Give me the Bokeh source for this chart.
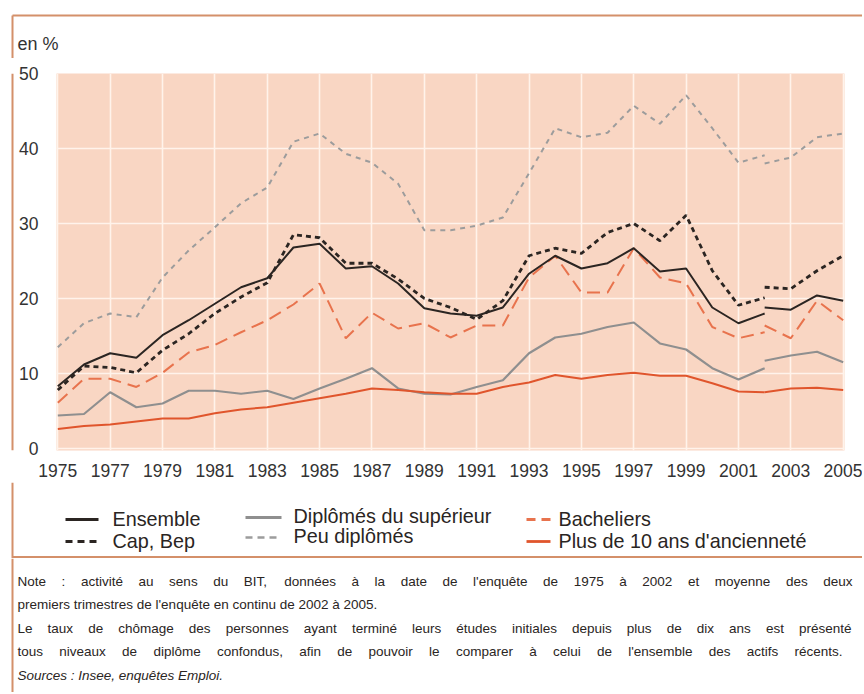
from bokeh.plotting import figure
from bokeh.models import Range1d, FixedTicker
from bokeh.layouts import column, row
from bokeh.embed import file_html
from bokeh.resources import INLINE
from bokeh.core.properties import value

# ---------------- data ----------------
years_old = list(range(1975, 2003))
years_new = [2002, 2003, 2004, 2005]

ensemble_old = [8.3, 11.2, 12.7, 12.1, 15.1, 17.1, 19.3, 21.5, 22.7, 26.8, 27.3, 24.0, 24.3, 22.0,
                18.7, 18.0, 17.7, 18.8, 23.3, 25.7, 24.0, 24.7, 26.7, 23.6, 24.0, 18.8, 16.7, 18.0]
ensemble_new = [18.8, 18.5, 20.4, 19.7]

cap_old = [7.8, 11.0, 10.8, 10.1, 13.1, 15.3, 18.0, 20.2, 22.1, 28.5, 28.1, 24.7, 24.7, 22.6,
           20.0, 18.8, 17.2, 19.7, 25.7, 26.7, 26.0, 28.8, 30.0, 27.7, 31.1, 23.7, 19.1, 20.1]
cap_new = [21.5, 21.3, 23.7, 25.7]

sup_old = [4.4, 4.6, 7.5, 5.5, 6.0, 7.7, 7.7, 7.3, 7.7, 6.6, 8.0, 9.3, 10.7, 8.0,
           7.3, 7.2, 8.2, 9.1, 12.7, 14.8, 15.3, 16.2, 16.8, 14.0, 13.2, 10.7, 9.2, 10.7]
sup_new = [11.7, 12.4, 12.9, 11.5]

peu_old = [13.5, 16.7, 18.0, 17.5, 22.8, 26.4, 29.5, 32.7, 34.8, 40.9, 42.0, 39.3, 38.1, 35.3,
           29.1, 29.1, 29.7, 30.8, 36.7, 42.7, 41.5, 42.1, 45.7, 43.3, 47.1, 42.7, 38.1, 39.1]
peu_new = [38.0, 38.8, 41.5, 42.0]

bac_old = [6.1, 9.3, 9.3, 8.2, 10.1, 12.8, 13.8, 15.5, 17.1, 19.2, 22.0, 14.7, 18.1, 16.0,
           16.7, 14.8, 16.4, 16.4, 22.8, 25.7, 20.8, 20.8, 26.7, 22.8, 22.0, 16.2, 14.7, 15.5]
bac_new = [16.4, 14.7, 19.7, 17.1]

plus_old = [2.6, 3.0, 3.2, 3.6, 4.0, 4.0, 4.7, 5.2, 5.5, 6.1, 6.7, 7.3, 8.0, 7.8,
            7.5, 7.3, 7.3, 8.2, 8.8, 9.8, 9.3, 9.8, 10.1, 9.7, 9.7, 8.7, 7.6, 7.5]
plus_new = [7.5, 8.0, 8.1, 7.8]

x_ticks = list(range(1975, 2006, 2))
y_ticks = [0, 10, 20, 30, 40, 50]
unit_label = "en %"
legend_labels = ["Ensemble", "Cap, Bep", "Diplômés du supérieur", "Peu diplômés",
                 "Bacheliers", "Plus de 10 ans d'ancienneté"]
note_lines = [
    "Note : activité au sens du BIT, données à la date de l'enquête de 1975 à 2002 et moyenne des deux",
    "premiers trimestres de l'enquête en continu de 2002 à 2005.",
    "Le taux de chômage des personnes ayant terminé leurs études initiales depuis plus de dix ans est présenté",
    "tous niveaux de diplôme confondus, afin de pouvoir le comparer à celui de l'ensemble des actifs récents.",
]
source_line = "Sources : Insee, enquêtes Emploi."

# ---------------- style ----------------
FONT = "Liberation Sans"
BG = "#F9D6C3"
GRID = "#FFF3EB"
FRAME = "#D4906A"
TXT = "#2A2523"
C_BLACK = "#2B2522"
C_GRAY = "#8F8F8F"
C_GRAY_D = "#9C9C9C"
C_ORANGE = "#E8734D"
C_RED = "#E0552C"

FULL_W = 862


def canvas_fig(w, h):
    f = figure(width=w, height=h, output_backend="svg", toolbar_location=None,
               x_range=Range1d(0, w), y_range=Range1d(h, 0), min_border=0,
               x_axis_location=None, y_axis_location=None)
    f.xgrid.visible = False
    f.ygrid.visible = False
    f.outline_line_color = None
    f.background_fill_color = "white"
    f.border_fill_color = "white"
    return f


# ---------------- header (top border + unit) ----------------
fig_T = canvas_fig(FULL_W, 58)
fig_T.segment(x0=[12, 12], y0=[15, 15], x1=[FULL_W, 12], y1=[15, 58], line_color=FRAME, line_width=2)
fig_T.text(x=[17], y=[43], text=[unit_label], text_font=value(FONT), text_font_size=value("18px"),
           text_color="#333333", text_baseline=value("middle"), text_align=value("left"))

# ---------------- chart ----------------
fig_AL = canvas_fig(16, 424)
fig_AL.segment(x0=[12], y0=[0], x1=[12], y1=[424], line_color=FRAME, line_width=2)

p = figure(width=846, height=424, output_backend="svg", toolbar_location=None,
           x_range=Range1d(1974.95, 2005.05), y_range=Range1d(-0.27, 50),
           min_border_left=32, min_border_right=18, min_border_top=15, min_border_bottom=32)
p.background_fill_color = BG
p.border_fill_color = "white"
p.outline_line_color = None
for ax in (p.xaxis, p.yaxis):
    ax.axis_line_color = None
    ax.major_tick_line_color = None
    ax.minor_tick_line_color = None
    ax.major_label_text_font = FONT
    ax.major_label_text_font_size = "17.5px"
    ax.major_label_text_color = "#333333"
p.xaxis.ticker = FixedTicker(ticks=x_ticks)
p.yaxis.ticker = FixedTicker(ticks=y_ticks)
p.xaxis.major_label_standoff = 7
p.yaxis.major_label_standoff = 12
p.xgrid.ticker = FixedTicker(ticks=x_ticks)
p.ygrid.ticker = FixedTicker(ticks=y_ticks)
for g in (p.xgrid, p.ygrid):
    g.grid_line_color = GRID
    g.grid_line_width = 1.6

series = [
    (peu_old, peu_new, C_GRAY_D, 2.0, "5 5"),
    (sup_old, sup_new, C_GRAY, 2.2, "solid"),
    (plus_old, plus_new, C_RED, 2.0, "solid"),
    (bac_old, bac_new, C_ORANGE, 2.0, "13 7"),
    (cap_old, cap_new, C_BLACK, 2.8, "5 4"),
    (ensemble_old, ensemble_new, C_BLACK, 2.0, "solid"),
]
for old, new, col, lw, dash in series:
    p.line(years_old, old, line_color=col, line_width=lw, line_dash=dash)
    p.line(years_new, new, line_color=col, line_width=lw, line_dash=dash)

# ---------------- legend ----------------
fig_L = canvas_fig(FULL_W, 76)
fig_L.segment(x0=[12, 12], y0=[0, 74.5], x1=[12, FULL_W], y1=[76, 74.5], line_color=FRAME, line_width=2)
leg_style = [(C_BLACK, 2.8, "solid"), (C_BLACK, 3.0, "7 5"), (C_GRAY, 2.8, "solid"),
             (C_GRAY_D, 2.6, "7 5"), (C_ORANGE, 2.8, "9 6"), (C_RED, 2.8, "solid")]
leg_line_x = [(65, 98), (65, 98), (245, 281), (245, 281), (526, 550), (526, 550)]
leg_y = [37, 59, 35, 55, 37, 59]
for (xa, xb), yy, (c, lw, d) in zip(leg_line_x, leg_y, leg_style):
    fig_L.line([xa, xb], [yy, yy], line_color=c, line_width=lw, line_dash=d)
leg_text_x = [112, 112, 293, 293, 558, 558]
leg_text_y = [36, 58, 33, 53, 36, 58]
fig_L.text(x=leg_text_x, y=leg_text_y, text=legend_labels, text_font=value(FONT),
           text_font_size=value("19.8px"), text_color=TXT, text_baseline=value("middle"),
           text_align=value("left"))

# ---------------- note (justified) ----------------
AW = {' ': 278, "'": 191, ',': 278, '.': 278, ':': 278, '%': 889, '-': 333}
for ch in '0123456789':
    AW[ch] = 556
for ch, w in zip("ABCDEFGHIJKLMNOPQRSTUVWXYZ",
                 [667, 667, 722, 722, 667, 611, 778, 722, 278, 500, 667, 556, 833, 722, 778, 667, 778,
                  722, 667, 611, 722, 667, 944, 667, 667, 611]):
    AW[ch] = w
for ch, w in zip("abcdefghijklmnopqrstuvwxyz",
                 [556, 556, 500, 556, 556, 278, 556, 556, 222, 222, 500, 222, 833, 556, 556, 556, 556,
                  333, 500, 278, 556, 500, 722, 500, 500, 500]):
    AW[ch] = w
for ch in "éèêëàâôûù":
    AW[ch] = 556
NOTE_SIZE = 13.5


def tw(s):
    return sum(AW.get(c, 556) for c in s) * NOTE_SIZE / 1000.0


fig_N = canvas_fig(FULL_W, 134)
fig_N.segment(x0=[12], y0=[0], x1=[12], y1=[134], line_color=FRAME, line_width=2)
note_y = [23, 46, 70, 93]
x_left = 17
x_right = [852, None, 851, 842]
nx, ny, nt = [], [], []
for line, yy, xr in zip(note_lines, note_y, x_right):
    words = line.split(" ")
    if xr is None:
        nx.append(x_left); ny.append(yy); nt.append(line)
        continue
    total = sum(tw(wd) for wd in words)
    gap = (xr - x_left - total) / (len(words) - 1)
    cx = x_left
    for wd in words:
        nx.append(cx); ny.append(yy); nt.append(wd)
        cx += tw(wd) + gap
fig_N.text(x=nx, y=ny, text=nt, text_font=value(FONT), text_font_size=value(f"{NOTE_SIZE}px"),
           text_color=TXT, text_baseline=value("middle"), text_align=value("left"))
fig_N.text(x=[x_left], y=[117], text=[source_line], text_font=value(FONT),
           text_font_size=value(f"{NOTE_SIZE}px"), text_font_style=value("italic"),
           text_color=TXT, text_baseline=value("middle"), text_align=value("left"))

layout = column(fig_T, row(fig_AL, p, spacing=0), fig_L, fig_N, spacing=0)
open("out.html", "w").write(file_html(layout, INLINE))
